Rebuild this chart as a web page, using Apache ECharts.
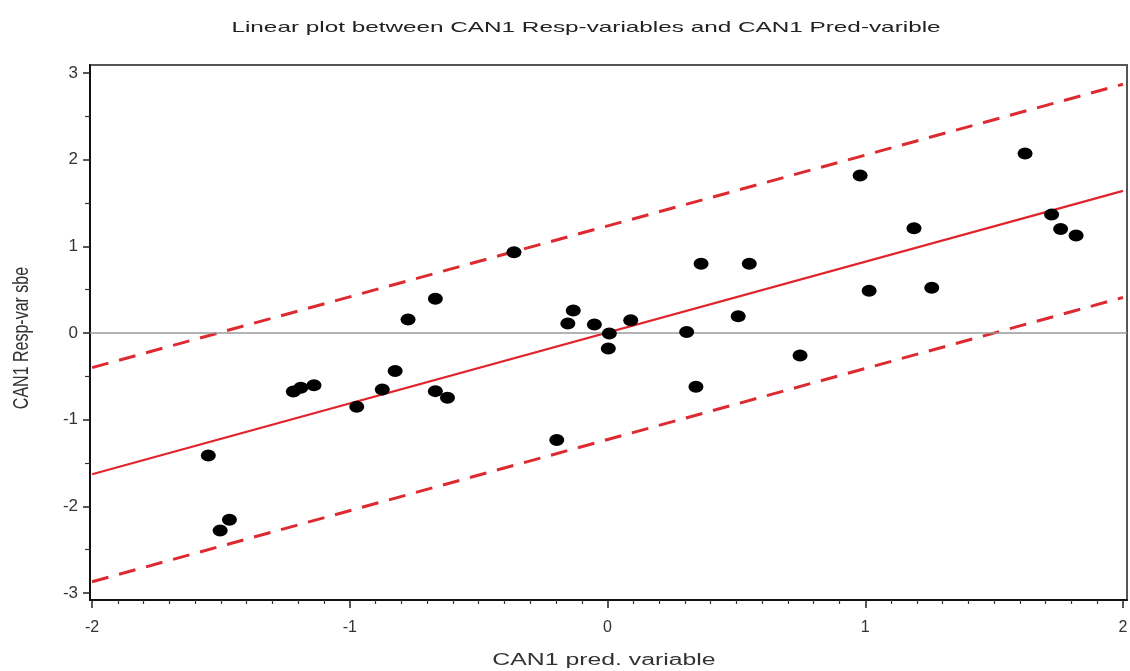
<!DOCTYPE html>
<html><head><meta charset="utf-8">
<script src="https://cdn.jsdelivr.net/npm/echarts@6/dist/echarts.min.js"></script>
<style>html,body{margin:0;padding:0;background:#fff}#c{width:1130px;height:671px}</style>
</head><body><div id="c"></div>
<script>
const titleText = 'Linear plot between CAN1 Resp-variables and CAN1 Pred-varible';
const xAxisTitle = 'CAN1 pred. variable';
const yAxisTitle = 'CAN1 Resp-var sbe';

const xTickLabels = [-2, -1, 0, 1, 2];
const xMinorTicks = [-1.9, -1.8, -1.7, -1.6, -1.5, -1.4, -1.3, -1.2, -1.1,
  -0.9, -0.8, -0.7, -0.6, -0.5, -0.4, -0.3, -0.2, -0.1,
  0.1, 0.2, 0.3, 0.4, 0.5, 0.6, 0.7, 0.8, 0.9,
  1.1, 1.2, 1.3, 1.4, 1.5, 1.6, 1.7, 1.8, 1.9];
const yTickLabels = [-3, -2, -1, 0, 1, 2, 3];
const yHalfTicks = [-2.5, -1.5, -0.5, 0.5, 1.5, 2.5];

const predX = [-1.549, -1.503, -1.467, -1.219, -1.190, -1.139, -0.973, -0.874, -0.824, -0.774,
  -0.668, -0.668, -0.621, -0.363, -0.197, -0.154, -0.133, -0.051, 0.007, 0.003,
  0.090, 0.307, 0.343, 0.363, 0.507, 0.550, 0.747, 0.980, 1.015, 1.189,
  1.258, 1.620, 1.723, 1.758, 1.818];
const respY = [-1.413, -2.280, -2.155, -0.675, -0.632, -0.602, -0.851, -0.652, -0.440, 0.156,
  0.395, -0.671, -0.748, 0.932, -1.236, 0.110, 0.260, 0.098, -0.006, -0.179,
  0.148, 0.010, -0.620, 0.800, 0.194, 0.800, -0.260, 1.817, 0.487, 1.209,
  0.521, 2.070, 1.367, 1.200, 1.125];

const fitX = [-2, 2];
const fitY = [-1.63, 1.64];
const upperY = [-0.40, 2.87];
const lowerY = [-2.87, 0.41];

const X_MIN = -2.008, X_MAX = 2.0155, Y_MIN = -3.081, Y_MAX = 3.092;

const chart = echarts.init(document.getElementById('c'), null, {renderer: 'canvas'});
const font = 'Liberation Sans, Arial, sans-serif';
const pair = (xs, ys) => xs.map((x, i) => [x, ys[i]]);

const option = {
  animation: false,
  backgroundColor: '#ffffff',
  grid: {left: 90, right: 3, top: 65, bottom: 71, show: true, borderColor: '#555', borderWidth: 2, outerBoundsMode: 'none'},
  xAxis: [{
    type: 'value', min: X_MIN, max: X_MAX, position: 'bottom',
    axisLine: {show: true, onZero: false, lineStyle: {color: '#111', width: 2}},
    axisTick: {show: true, customValues: xTickLabels, length: 8, lineStyle: {color: '#222', width: 1.5}},
    axisLabel: {customValues: xTickLabels, fontSize: 16, color: '#333', margin: 20, fontFamily: font},
    splitLine: {show: false}
  }, {
    type: 'value', min: X_MIN, max: X_MAX, position: 'bottom',
    axisLine: {show: false, onZero: false},
    axisTick: {show: true, customValues: xMinorTicks, length: 4, lineStyle: {color: '#333', width: 1.2}},
    axisLabel: {show: false},
    splitLine: {show: false}
  }],
  yAxis: [{
    type: 'value', min: Y_MIN, max: Y_MAX, position: 'left',
    axisLine: {show: true, onZero: false, lineStyle: {color: '#111', width: 2}},
    axisTick: {show: true, customValues: yTickLabels, length: 7, lineStyle: {color: '#222', width: 1.5}},
    axisLabel: {customValues: yTickLabels, fontSize: 17, color: '#333', margin: 12, fontFamily: font},
    splitLine: {show: false}
  }, {
    type: 'value', min: Y_MIN, max: Y_MAX, position: 'left',
    axisLine: {show: false, onZero: false},
    axisTick: {show: true, customValues: yHalfTicks, length: 5, lineStyle: {color: '#333', width: 1.2}},
    axisLabel: {show: false},
    splitLine: {show: false}
  }],
  graphic: [
    {type: 'text', x: 586, y: 28, scaleX: 1.62, style: {text: titleText, font: '15px ' + font, fill: '#222', align: 'center', verticalAlign: 'middle'}},
    {type: 'text', x: 604, y: 661, scaleX: 1.55, style: {text: xAxisTitle, font: '16px ' + font, fill: '#333', align: 'center', verticalAlign: 'middle'}},
    {type: 'text', x: 22, y: 338, rotation: Math.PI / 2, scaleY: 1.4, style: {text: yAxisTitle, font: '16px ' + font, fill: '#333', align: 'center', verticalAlign: 'middle'}}
  ],
  series: [
    {
      type: 'line', data: pair(fitX, [0, 0]), showSymbol: false, symbol: 'none',
      lineStyle: {width: 0, opacity: 0}, silent: true,
      markLine: {silent: true, symbol: 'none', label: {show: false},
        lineStyle: {color: '#9a9a9a', width: 1.5, type: 'solid'}, data: [{yAxis: 0}]}
    },
    {type: 'line', data: pair(fitX, upperY), symbol: 'none', lineStyle: {color: '#dd2a30', width: 3, type: [17, 11]}, z: 3},
    {type: 'line', data: pair(fitX, lowerY), symbol: 'none', lineStyle: {color: '#dd2a30', width: 3, type: [17, 11]}, z: 3},
    {type: 'line', data: pair(fitX, fitY), symbol: 'none', lineStyle: {color: '#e0242c', width: 2.2}, z: 3},
    {type: 'scatter', data: pair(predX, respY), symbol: 'circle', symbolSize: [15, 12], itemStyle: {color: '#000', opacity: 1}, z: 5}
  ]
};
chart.setOption(option);
</script></body></html>
